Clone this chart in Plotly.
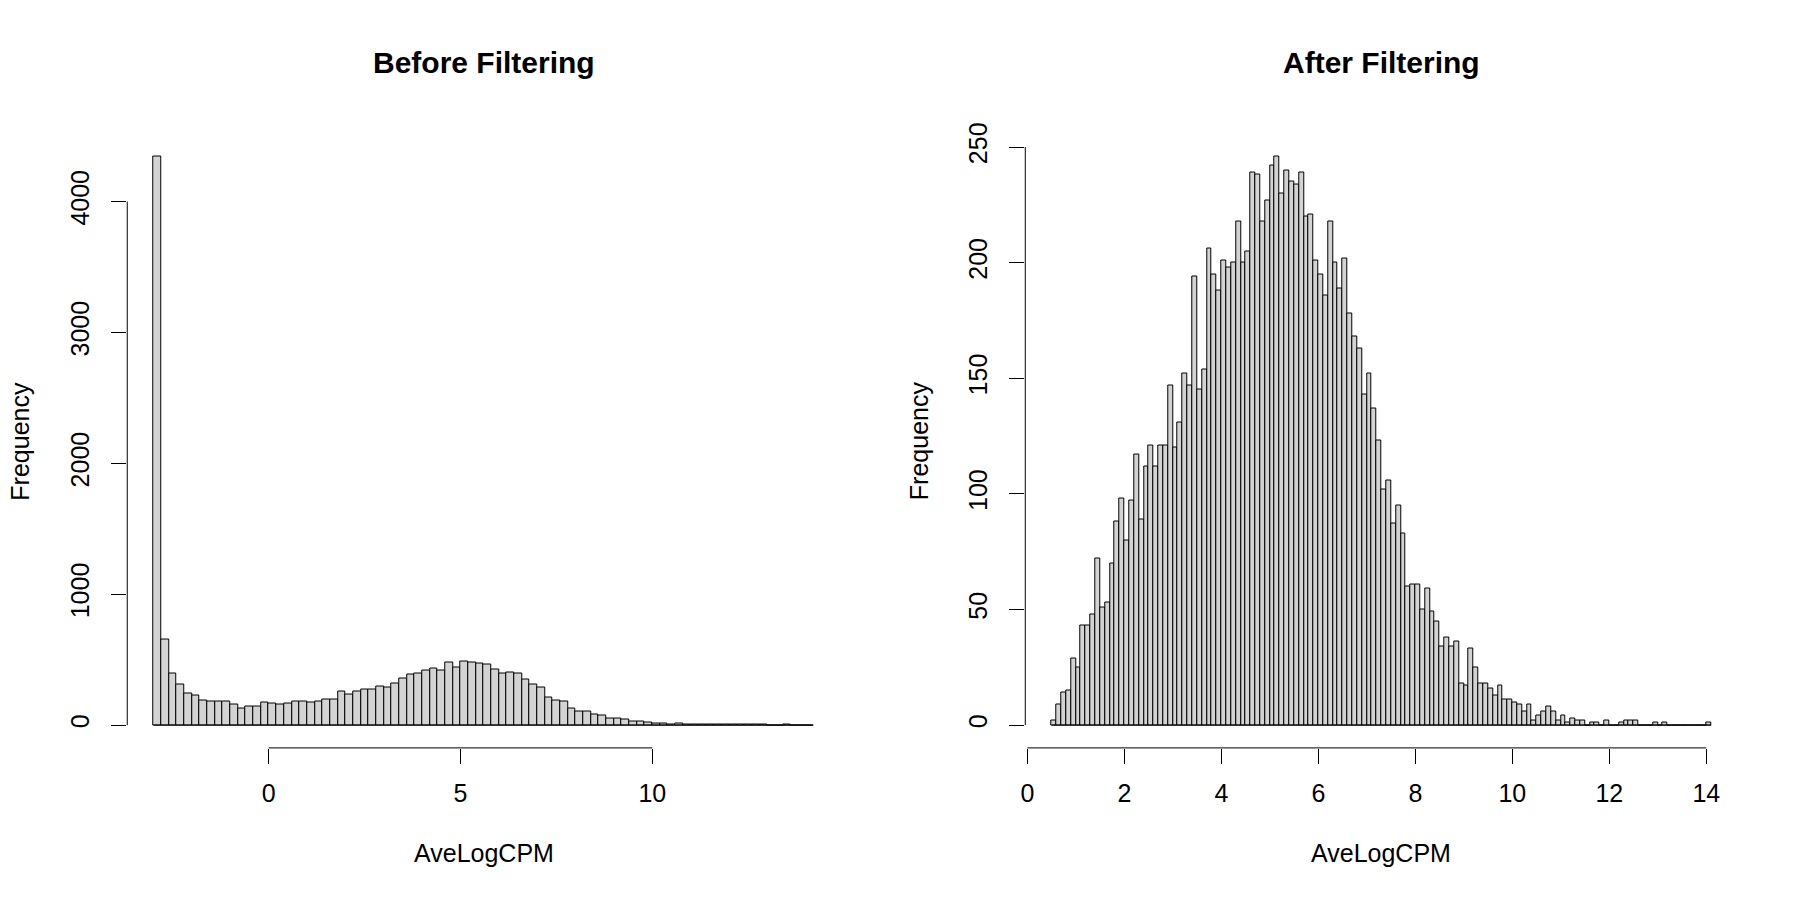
import numpy as np
import plotly.graph_objects as go

# counts (AveLogCPM)
left_counts = [4346, 651, 391, 311, 245, 227, 189, 179, 184, 184,
               157, 129, 141, 144, 174, 162, 159, 164, 182, 182,
               174, 184, 199, 197, 258, 232, 260, 270, 272, 294,
               290, 318, 354, 389, 394, 417, 434, 417, 482, 444,
               487, 482, 470, 467, 422, 394, 404, 391, 346, 311,
               285, 212, 192, 179, 124, 104, 104, 78, 70, 50,
               48, 40, 30, 28, 23, 15, 13, 8, 15, 8,
               5, 5, 4, 3, 3, 5, 5, 2, 2, 2,
               1, 1, 2, 1, 1, 1]
left_start = -3.0
left_binwidth = 0.2

right_counts = [2, 9, 14, 15, 29, 25, 43, 43, 48, 72,
                51, 53, 70, 88, 98, 80, 97, 117, 89, 112,
                121, 112, 121, 121, 147, 120, 131, 152, 147, 194,
                145, 154, 206, 195, 188, 201, 198, 200, 218, 200,
                205, 239, 238, 218, 227, 242, 246, 230, 240, 235,
                234, 239, 220, 221, 201, 195, 186, 218, 200, 189,
                202, 178, 168, 163, 143, 152, 137, 123, 102, 106,
                87, 95, 83, 60, 61, 61, 50, 59, 49, 45,
                34, 38, 34, 36, 18, 17, 33, 25, 18, 18,
                16, 13, 17, 11, 11, 10, 9, 6, 9, 2,
                4, 6, 8, 6, 2, 4, 1, 3, 2, 2,
                0, 1, 1, 0, 2, 0, 0, 1, 2, 2,
                2, 0, 0, 0, 1, 0, 1, 0, 0, 0,
                0, 0, 0, 0, 0, 1]
right_start = 0.5
right_binwidth = 0.1

left_xticks = [0, 5, 10]
left_yticks = [0, 1000, 2000, 3000, 4000]
right_xticks = [0, 2, 4, 6, 8, 10, 12, 14]
right_yticks = [0, 50, 100, 150, 200, 250]

titles = ["Before Filtering", "After Filtering"]
xlabel = "AveLogCPM"
ylabel = "Frequency"

FONT = "Liberation Sans"


def usr(lo, hi):
    # R pads the axis range by 4% on each side
    d = hi - lo
    return [lo - 0.04 * d, hi + 0.04 * d]


def edges_of(start, width, counts):
    return start + width * np.arange(len(counts) + 1)


fig = go.Figure()

panels = [
    (left_counts, left_start, left_binwidth, "x", "y"),
    (right_counts, right_start, right_binwidth, "x2", "y2"),
]
for counts, start, bw, xa, ya in panels:
    e = edges_of(start, bw, counts)
    fig.add_trace(go.Bar(x=e[:-1] + bw / 2, y=counts, width=bw,
                         marker=dict(color="#D3D3D3", line=dict(color="black", width=1)),
                         xaxis=xa, yaxis=ya, showlegend=False))
    # empty bins are drawn as a flat line at zero in R
    fig.add_trace(go.Scatter(x=[e[0], e[-1]], y=[0, 0], mode="lines",
                             line=dict(color="black", width=1),
                             xaxis=xa, yaxis=ya, showlegend=False, hoverinfo="skip"))

le = edges_of(left_start, left_binwidth, left_counts)
re_ = edges_of(right_start, right_binwidth, right_counts)

ydom = [0.1711, 0.8622]
ax_common = dict(showgrid=False, zeroline=False, showline=False, ticks="outside",
                 ticklen=15, tickwidth=1, tickcolor="black",
                 tickfont=dict(size=25, family=FONT, color="black"))

fig.update_layout(
    width=1800, height=900,
    margin=dict(l=0, r=0, t=0, b=0),
    paper_bgcolor="white", plot_bgcolor="white",
    bargap=0,
    font=dict(family=FONT, color="black"),
    xaxis=dict(domain=[0.0681, 0.4651], range=usr(le[0], le[-1]), tickvals=left_xticks,
               anchor="y", ticklabelstandoff=8, **ax_common),
    yaxis=dict(domain=ydom, range=usr(0, max(left_counts)), tickvals=left_yticks,
               tickangle=-90, anchor="x", ticklabelstandoff=12, **ax_common),
    xaxis2=dict(domain=[0.5684, 0.9652], range=usr(re_[0], re_[-1]), tickvals=right_xticks,
                anchor="y2", ticklabelstandoff=8, **ax_common),
    yaxis2=dict(domain=ydom, range=usr(0, max(right_counts)), tickvals=right_yticks,
                tickangle=-90, anchor="x2", ticklabelstandoff=12, **ax_common),
)

# axis lines only span first to last tick, as in base R
for xa, ya, xt, yt in [("x", "y", left_xticks, left_yticks),
                       ("x2", "y2", right_xticks, right_yticks)]:
    fig.add_shape(type="line", xref=xa, yref=ya + " domain", x0=xt[0], x1=xt[-1], y0=0, y1=0,
                  line=dict(color="black", width=1))
    fig.add_shape(type="line", xref=xa + " domain", yref=ya, x0=0, x1=0, y0=yt[0], y1=yt[-1],
                  line=dict(color="black", width=1))

for xa, t in [("x", titles[0]), ("x2", titles[1])]:
    fig.add_annotation(text="<b>" + t + "</b>", xref=xa + " domain", yref="paper",
                       x=0.5, y=1 - 52 / 900, xanchor="center", yanchor="middle",
                       showarrow=False, font=dict(size=30, family=FONT, color="black"))
    fig.add_annotation(text=xlabel, xref=xa + " domain", yref="paper",
                       x=0.5, y=1 - 852 / 900, xanchor="center", yanchor="middle",
                       showarrow=False, font=dict(size=25, family=FONT, color="black"))

for xpix in [15, 916]:
    fig.add_annotation(text=ylabel, xref="paper", yref="paper",
                       x=xpix / 1800, y=sum(ydom) / 2, textangle=-90,
                       xanchor="center", yanchor="middle", showarrow=False,
                       font=dict(size=25, family=FONT, color="black"))

fig.write_html("out.html", config={"displayModeBar": False},
               post_script="document.body.style.margin='0px';")
